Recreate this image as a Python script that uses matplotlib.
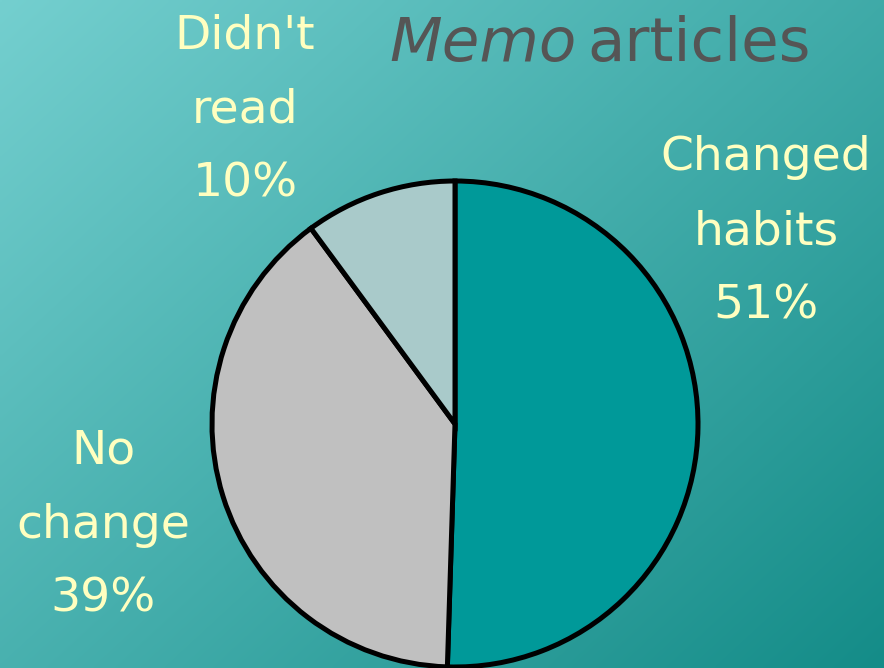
import matplotlib
matplotlib.use('Agg')

import matplotlib.pyplot as plt
import numpy as np

labels = ["Changed\nhabits\n51%", "No\nchange\n39%", "Didn't\nread\n10%"]
values = [50.5, 39.4, 10.1]
colors = ['#009999', '#C0C0C0', '#A9CACA']
label_pos = [(766, 232), (103, 525), (245, 110)]  # centres in pixels (from top)

W, H = 884, 668
fig = plt.figure(figsize=(W / 100, H / 100), dpi=100)
ax = fig.add_axes([0, 0, 1, 1])

# diagonal gradient background, light top-left -> dark bottom-right
yy, xx = np.mgrid[0:1:200j, 0:1:260j]
t = (xx * 0.55 + yy * 0.45)
c0 = np.array([0x74, 0xCF, 0xCF]) / 255
c1 = np.array([0x14, 0x8C, 0x88]) / 255
bg = c0[None, None, :] * (1 - t[..., None]) + c1[None, None, :] * t[..., None]
ax.imshow(bg, extent=[0, W, 0, H], origin='upper', aspect='auto', zorder=0,
          interpolation='bilinear')

ax.pie(values, colors=colors, startangle=90, counterclock=False,
       center=(455, H - 424), radius=243,
       wedgeprops=dict(edgecolor='black', linewidth=3.6), frame=True)

# each label line placed separately to get the wide line spacing
step = 74
for lab, (x, y) in zip(labels, label_pos):
    lines = lab.split('\n')
    for i, line in enumerate(lines):
        yl = y + (i - (len(lines) - 1) / 2) * step
        ax.text(x, H - yl, line, ha='center', va='center', fontsize=34,
                color='#FFFFC0', family='DejaVu Sans')

ax.text(577, H - 44, 'Memo', ha='right', va='center', fontsize=44, color='#555555',
        style='italic', family='DejaVu Sans')
ax.text(587, H - 44, 'articles', ha='left', va='center', fontsize=44, color='#555555',
        family='DejaVu Sans')

ax.set_xlim(0, W)
ax.set_ylim(0, H)
ax.set_aspect('equal', adjustable='box')
ax.axis('off')

plt.savefig('out.png', dpi=100)
